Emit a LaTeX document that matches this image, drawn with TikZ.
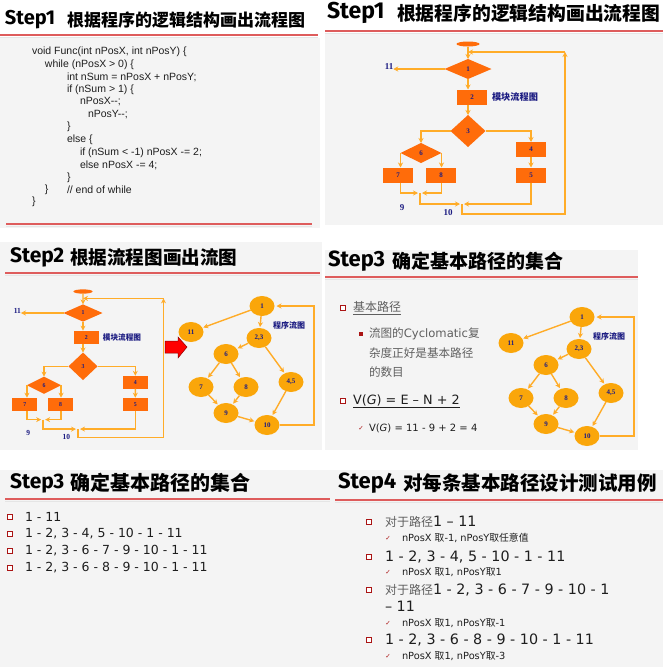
\documentclass[tikz,border=0pt]{standalone}
\usepackage{fontspec}
\usetikzlibrary{arrows.meta,shapes.geometric}
\setmainfont{Liberation Serif}
\newfontfamily\cjk{Noto Sans CJK SC}
\newfontfamily\dv{DejaVu Sans}
\newfontfamily\codefont{Liberation Sans}
\newfontfamily\stepfont{Fira Sans}
\newcommand\fs[1]{\fontsize{#1pt}{#1pt}\selectfont}
\newcommand\zh[1]{{\cjk #1}}
\definecolor{panelbg}{RGB}{244,244,244}
\definecolor{boxor}{RGB}{255,108,10}
\definecolor{lineor}{RGB}{255,172,40}
\definecolor{ellor}{RGB}{250,166,10}
\definecolor{navy}{RGB}{28,28,130}
\definecolor{rulec}{RGB}{222,92,92}
\definecolor{bul}{RGB}{170,20,20}
\definecolor{txt}{RGB}{30,30,30}
\definecolor{gtxt}{RGB}{95,95,95}
\tikzset{
  every node/.style={inner sep=0pt, outer sep=0pt},
  panel/.style={fill=panelbg, draw=none},
  rulered/.style={draw=rulec, line width=1.3pt},
  ruleshadow/.style={draw=black!10, line width=1pt},
  steptitle/.style={anchor=west, font=\stepfont\bfseries, text=black},
  cjktitle/.style={anchor=west, font=\cjk\bfseries, text=black},
  codeline/.style={anchor=west, font=\codefont\fs{10.5}, text=txt},
  fbox/.style={rectangle, fill=boxor, minimum width=30pt, minimum height=15pt, font=\fs{7}\bfseries, text=navy},
  fdia/.style={diamond, fill=boxor, font=\fs{7}\bfseries, text=navy},
  foval/.style={ellipse, fill=boxor, minimum width=23pt, minimum height=5pt},
  flab/.style={font=\fs{9}\bfseries, text=navy},
  arr/.style={draw=lineor, line width=1.4pt, -{Stealth[length=5pt,width=5pt]}},
  cnode/.style={ellipse, fill=ellor, minimum width=25pt, minimum height=20pt, font=\fs{7}\bfseries, text=navy},
  hbul/.style={draw=bul, fill=white, line width=1.1pt, minimum size=4.5pt},
  fbul/.style={fill=bul, minimum size=3.5pt},
  chk/.style={font=\dv\fs{6.5}, text=bul},
  listtxt/.style={anchor=west, font=\dv\fs{12.5}, text=txt},
  subtxt/.style={anchor=west, font=\dv\fs{9.8}, text=txt},
}
\newcommand\drawflowchart[1]{%
  \node[foval] (#1o) at (468,44) {};
  \node[fdia, minimum width=47pt, minimum height=20pt] (#1d1) at (468,69) {1};
  \node[fbox] (#1b2) at (472,97) {2};
  \node[anchor=west, font=\cjk\bfseries\fs{9.2}, text=navy] (#1lab) at (492,97) {模块流程图};
  \node[fdia, minimum width=35pt, minimum height=32pt] (#1d3) at (468,131) {3};
  \node[fdia, minimum width=41pt, minimum height=20pt] (#1d6) at (421,153) {6};
  \node[fbox] (#1b4) at (531,149.5) {4};
  \node[fbox] (#1b5) at (531,175) {5};
  \node[fbox] (#1b7) at (398,175) {7};
  \node[fbox] (#1b8) at (441,175) {8};
  \node[flab] (#1n11) at (389,67) {11};
  \node[flab] (#1n9) at (402,208) {9};
  \node[flab] (#1n10) at (448,213) {10};
  \coordinate (#1m9) at (420,193);
  \coordinate (#1m10) at (462,204);
  \coordinate (#1top) at (468,52);
  \coordinate (#1lb) at (565,214);
  \coordinate (#1lt) at (565,52);
  \draw[arr] (#1o) -- (#1d1);
  \draw[arr] (#1d1.west) -- (#1d1.west -| #1n11.east);
  \draw[arr] (#1d1.south) -- (#1d1.south |- #1b2.north);
  \draw[arr] (#1b2.south -| #1d1) -- (#1d3.north);
  \draw[arr] (#1d3.west) -| (#1d6.north);
  \draw[arr] (#1d3.east) -| (#1b4.north);
  \draw[arr] (#1d6.west) -- (#1d6.west |- #1b7.north);
  \draw[arr] (#1d6.east) -- (#1d6.east |- #1b8.north);
  \draw[arr] (#1b4) -- (#1b5);
  \draw[arr, shorten >=2pt] (#1d6.west |- #1b7.south) |- (#1m9);
  \draw[arr, shorten >=2pt] (#1d6.east |- #1b8.south) |- (#1m9);
  \draw[arr, shorten >=2pt] (#1m9) |- (#1m10);
  \draw[arr, shorten >=2pt] (#1b5.south) |- (#1m10);
  \draw[arr] (#1m10) |- (#1lb) -- (#1lt);
  \draw[arr] (#1lt) -- (#1top);
}
\newcommand\drawcfg[1]{%
  \node[cnode] (#1n1) at (262,306) {1};
  \node[cnode] (#1n11) at (191,332) {11};
  \node[cnode] (#1n23) at (259,338) {2,3};
  \node[cnode] (#1n6) at (226,354) {6};
  \node[cnode] (#1n7) at (201,387) {7};
  \node[cnode] (#1n8) at (246,387) {8};
  \node[cnode] (#1n45) at (291,382) {4,5};
  \node[cnode] (#1n9) at (226,413) {9};
  \node[cnode] (#1n10) at (267,425) {10};
  \node[font=\cjk\bfseries\fs{8}, text=navy] (#1lab) at (289,325) {程序流图};
  \coordinate (#1c1) at (314,425);
  \coordinate (#1c2) at (314,306);
  \draw[arr, shorten >=1pt] (#1n1) -- (#1n11);
  \draw[arr, shorten >=1pt] (#1n1) -- (#1n23);
  \draw[arr, shorten >=1pt] (#1n23) -- (#1n6);
  \draw[arr, shorten >=1pt] (#1n23) -- (#1n45);
  \draw[arr, shorten >=1pt] (#1n6) -- (#1n7);
  \draw[arr, shorten >=1pt] (#1n6) -- (#1n8);
  \draw[arr, shorten >=1pt] (#1n7) -- (#1n9);
  \draw[arr, shorten >=1pt] (#1n8) -- (#1n9);
  \draw[arr, shorten >=1pt] (#1n9) -- (#1n10);
  \draw[arr, shorten >=1pt] (#1n45) -- (#1n10);
  \draw[arr, shorten >=2pt] (#1n10.east) -- (#1c1) -- (#1c2) -- (#1n1.east);
}
\begin{document}
\begin{tikzpicture}[x=1pt, y=-1pt]
\useasboundingbox (0,0) rectangle (663,667);
\fill[white] (0,0) rectangle (663,667);
% panels
\fill[panel] (0,38) rectangle (320,228);
\fill[panel] (325,34) rectangle (663,225);
\fill[panel] (0,242) rectangle (322,450);
\fill[panel] (325,250) rectangle (638,450);
\fill[panel] (0,470) rectangle (330,667);
\fill[panel] (330,470) rectangle (663,667);
% rules
\draw[ruleshadow] (0,37) -- (318,37);
\draw[rulered] (0,35) -- (318,35);
\draw[ruleshadow] (6,226) -- (312,226);
\draw[rulered] (6,224) -- (312,224);
\draw[ruleshadow] (325,33) -- (663,33);
\draw[rulered] (325,31) -- (663,31);
\draw[ruleshadow] (5,275) -- (320,275);
\draw[rulered] (5,273) -- (320,273);
\draw[ruleshadow] (325,279) -- (638,279);
\draw[rulered] (325,277) -- (638,277);
\draw[ruleshadow] (5,501) -- (330,501);
\draw[rulered] (5,499) -- (330,499);
\draw[ruleshadow] (335,502) -- (663,502);
\draw[rulered] (335,500) -- (663,500);
% titles
\node[steptitle, font=\stepfont\bfseries\fs{20}] (t1s) at (5,20) {Step1};
\node[cjktitle, font=\cjk\bfseries\fs{17}] (t1c) at (67,20) {根据程序的逻辑结构画出流程图};
\node[steptitle, font=\stepfont\bfseries\fs{23}] (t2s) at (327,13) {Step1};
\node[cjktitle, font=\cjk\bfseries\fs{18.8}] (t2c) at (397,13) {根据程序的逻辑结构画出流程图};
\node[steptitle, font=\stepfont\bfseries\fs{21}] (t3s) at (10,257) {Step2};
\node[cjktitle, font=\cjk\bfseries\fs{18.6}] (t3c) at (70,257) {根据流程图画出流图};
\node[steptitle, font=\stepfont\bfseries\fs{22}] (t4s) at (328,261) {Step3};
\node[cjktitle, font=\cjk\bfseries\fs{19}] (t4c) at (392,261) {确定基本路径的集合};
\node[steptitle, font=\stepfont\bfseries\fs{21}] (t5s) at (10,483) {Step3};
\node[cjktitle, font=\cjk\bfseries\fs{20}] (t5c) at (70,483) {确定基本路径的集合};
\node[steptitle, font=\stepfont\bfseries\fs{22}] (t6s) at (338,483) {Step4};
\node[cjktitle, font=\cjk\bfseries\fs{19.5}] (t6c) at (403,483) {对每条基本路径设计测试用例};
% code
\node[codeline] (c1) at (32,52) {void Func(int nPosX, int nPosY) \{};
\node[codeline] (c2) at (45,64.5) {while (nPosX > 0) \{};
\node[codeline] (c3) at (67,77) {int nSum = nPosX + nPosY;};
\node[codeline] (c4) at (67,90) {if (nSum > 1) \{};
\node[codeline] (c5) at (80,102) {nPosX-{}-;};
\node[codeline] (c6) at (88,115) {nPosY-{}-;};
\node[codeline] (c7) at (67,127) {\}};
\node[codeline] (c8) at (67,140) {else \{};
\node[codeline] (c9) at (80,153) {if (nSum < -1) nPosX -= 2;};
\node[codeline] (c10) at (80,165) {else nPosX -= 4;};
\node[codeline] (c11) at (67,178) {\}};
\node[codeline] (c12) at (45,190) {\}};
\node[codeline] (c13) at (67,190) {// end of while};
\node[codeline] (c14) at (32,202) {\}};
% Step1 flowchart
\drawflowchart{A}
% Step2 flowchart (scaled copy)
\begin{scope}[shift={(83,313)}, xscale=0.83, yscale=0.86, shift={(-468,-69)}, transform shape]
\drawflowchart{B}
\end{scope}
% red arrow
\filldraw[fill=red, draw=red!55!black, line width=0.5pt] (165,341) -- (178,341) -- (178,337) -- (187,347) -- (178,358) -- (178,353) -- (165,353) -- cycle;
% graphs
\drawcfg{G}
\begin{scope}[shift={(320,11)}]
\drawcfg{H}
\end{scope}
% Step3 right text
\node[hbul] (b1) at (343,308) {};
\node[anchor=west, font=\cjk\fs{12}, text=gtxt] (p1) at (353,308) {\underline{基本路径}};
\node[fbul] (b2) at (361,334) {};
\node[anchor=west, font=\cjk\fs{11.6}, text=gtxt] (p2) at (369,334) {流图的{\dv Cyclomatic}复};
\node[anchor=west, font=\cjk\fs{11.6}, text=gtxt] (p3) at (369,353) {杂度正好是基本路径};
\node[anchor=west, font=\cjk\fs{11.6}, text=gtxt] (p4) at (369,372) {的数目};
\node[hbul] (b3) at (343,401) {};
\node[anchor=west, font=\dv\fs{12.8}, text=txt] (p5) at (353,401) {\underline{V(\textit{G}) = E – N + 2}};
\node[chk] (k0) at (361,428) {✓};
\node[anchor=west, font=\dv\fs{10}, text=txt] (p6) at (369,428) {V(\textit{G}) = 11 - 9 + 2 = 4};
% Step3 list
\node[hbul] (lb1) at (10,517) {};
\node[listtxt] (l1) at (25,517) {1 - 11};
\node[hbul] (lb2) at (10,534) {};
\node[listtxt] (l2) at (25,534) {1 - 2, 3 - 4, 5 - 10 - 1 - 11};
\node[hbul] (lb3) at (10,551) {};
\node[listtxt] (l3) at (25,551) {1 - 2, 3 - 6 - 7 - 9 - 10 - 1 - 11};
\node[hbul] (lb4) at (10,568) {};
\node[listtxt] (l4) at (25,568) {1 - 2, 3 - 6 - 8 - 9 - 10 - 1 - 11};
% Step4
\node[hbul] (sb1) at (369,522) {};
\node[anchor=west, font=\dv\fs{14.3}, text=txt] (s1) at (385,522) {{\cjk\fs{12}\color{gtxt}对于路径}1 – 11};
\node[chk] (k1) at (388,538) {✓};
\node[subtxt] (s1a) at (402,538) {nPosX \zh{取}-1, nPosY\zh{取任意值}};
\node[hbul] (sb2) at (369,557) {};
\node[anchor=west, font=\dv\fs{14.3}, text=txt] (s2) at (385,557) {1 - 2, 3 - 4, 5 - 10 - 1 - 11};
\node[chk] (k2) at (388,572) {✓};
\node[subtxt] (s2a) at (402,572) {nPosX \zh{取}1, nPosY\zh{取}1};
\node[hbul] (sb3) at (369,590) {};
\node[anchor=west, font=\dv\fs{14.3}, text=txt] (s3) at (385,590) {{\cjk\fs{12}\color{gtxt}对于路径}1 - 2, 3 - 6 - 7 - 9 - 10 - 1};
\node[anchor=west, font=\dv\fs{14.3}, text=txt] (s3b) at (385,606) {– 11};
\node[chk] (k3) at (388,623) {✓};
\node[subtxt] (s3a) at (402,623) {nPosX \zh{取}1, nPosY\zh{取}-1};
\node[hbul] (sb4) at (369,640) {};
\node[anchor=west, font=\dv\fs{14.3}, text=txt] (s4) at (385,640) {1 - 2, 3 - 6 - 8 - 9 - 10 - 1 - 11};
\node[chk] (k4) at (388,656) {✓};
\node[subtxt] (s4a) at (402,656) {nPosX \zh{取}1, nPosY\zh{取}-3};
\end{tikzpicture}
\end{document}
